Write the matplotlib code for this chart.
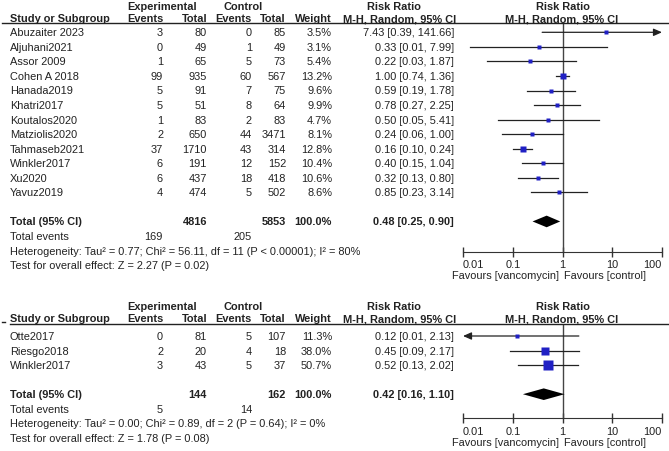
import matplotlib.pyplot as plt
from matplotlib.lines import Line2D
from matplotlib.transforms import blended_transform_factory
import numpy as np

plt.rcParams['font.family'] = ['Liberation Sans', 'DejaVu Sans']

W, H = 669, 452
FS = 7.9
TXT = '#222222'
BLUE = '#2020c4'

# upper comparison
studies1 = ["Abuzaiter 2023", "Aljuhani2021", "Assor 2009", "Cohen A 2018", "Hanada2019",
            "Khatri2017", "Koutalos2020", "Matziolis2020", "Tahmaseb2021", "Winkler2017",
            "Xu2020", "Yavuz2019"]
exp_ev1 = [3, 0, 1, 99, 5, 5, 1, 2, 37, 6, 6, 4]
exp_tot1 = [80, 49, 65, 935, 91, 51, 83, 650, 1710, 191, 437, 474]
ctl_ev1 = [0, 1, 5, 60, 7, 8, 2, 44, 43, 12, 18, 5]
ctl_tot1 = [85, 49, 73, 567, 75, 64, 83, 3471, 314, 152, 418, 502]
weight1 = [3.5, 3.1, 5.4, 13.2, 9.6, 9.9, 4.7, 8.1, 12.8, 10.4, 10.6, 8.6]
rr1 = [7.43, 0.33, 0.22, 1.00, 0.59, 0.78, 0.50, 0.24, 0.16, 0.40, 0.32, 0.85]
lo1 = [0.39, 0.014, 0.03, 0.74, 0.19, 0.27, 0.05, 0.06, 0.10, 0.15, 0.13, 0.23]
hi1 = [141.66, 7.99, 1.87, 1.36, 1.78, 2.25, 5.41, 1.00, 0.24, 1.04, 0.80, 3.14]
totals1 = [4816, 5853]
events1 = [169, 205]
pooled1 = [0.48, 0.25, 0.90]
het1 = "Heterogeneity: Tau² = 0.77; Chi² = 56.11, df = 11 (P < 0.00001); I² = 80%"
test1 = "Test for overall effect: Z = 2.27 (P = 0.02)"

# lower comparison
studies2 = ["Otte2017", "Riesgo2018", "Winkler2017"]
exp_ev2 = [0, 2, 3]
exp_tot2 = [81, 20, 43]
ctl_ev2 = [5, 4, 5]
ctl_tot2 = [107, 18, 37]
weight2 = [11.3, 38.0, 50.7]
rr2 = [0.12, 0.45, 0.52]
lo2 = [0.007, 0.09, 0.13]
hi2 = [2.13, 2.17, 2.02]
totals2 = [144, 162]
events2 = [5, 14]
pooled2 = [0.42, 0.16, 1.10]
het2 = "Heterogeneity: Tau² = 0.00; Chi² = 0.89, df = 2 (P = 0.64); I² = 0%"
test2 = "Test for overall effect: Z = 1.78 (P = 0.08)"

fig = plt.figure(figsize=(W / 100, H / 100), dpi=100)


def fx(x):
    return x / W


def fy(y):
    return 1 - y / H


def panel(studies, exp_ev, exp_tot, ctl_ev, ctl_tot, weight, rr, lo, hi,
          totals, events, pooled, het, test, top, line_y, row0, axis_y, line_x0):
    step = 14.55
    # headers
    hb = dict(fontsize=FS, color=TXT, fontweight='bold')
    fig.text(fx(162), fy(top + 10), "Experimental", ha='center', va='baseline', **hb)
    fig.text(fx(243), fy(top + 10), "Control", ha='center', va='baseline', **hb)
    fig.text(fx(394), fy(top + 10), "Risk Ratio", ha='center', va='baseline', **hb)
    fig.text(fx(563), fy(top + 10), "Risk Ratio", ha='center', va='baseline', **hb)
    y2 = fy(top + 22)
    fig.text(fx(10), y2, "Study or Subgroup", ha='left', va='baseline', **hb)
    for xr, s in [(163, "Events"), (207, "Total"), (252, "Events"), (286, "Total"), (332, "Weight")]:
        fig.text(fx(xr), y2, s, ha='right', va='baseline', **hb)
    fig.text(fx(400), y2, "M-H, Random, 95% CI", ha='center', va='baseline', **hb)
    fig.text(fx(562), y2, "M-H, Random, 95% CI", ha='center', va='baseline', **hb)
    fig.add_artist(Line2D([fx(line_x0), 1], [fy(line_y)] * 2, color=TXT, lw=1))

    ax = fig.add_axes([fx(463), fy(axis_y), fx(662) - fx(463), (axis_y - line_y) / H])
    ax.set_xscale('log')
    ax.set_xlim(0.01, 100)
    ax.set_ylim((axis_y - row0) / step, (line_y - row0) / step)
    for s in ['top', 'left', 'right']:
        ax.spines[s].set_visible(False)
    ax.spines['bottom'].set_color('#333333')
    ax.set_yticks([])
    ax.set_xticks([0.01, 0.1, 1, 10, 100], ["0.01", "0.1", "1", "10", "100"])
    ax.xaxis.set_minor_locator(plt.NullLocator())
    ax.tick_params(axis='x', direction='inout', length=7, width=1, color='#333333',
                   labelsize=FS, labelcolor=TXT, pad=2)
    labs = ax.get_xticklabels()
    labs[0].set_ha('left')
    labs[-1].set_ha('right')
    ax.axvline(1, color='#444444', lw=1)
    ax.patch.set_alpha(0)

    tr = blended_transform_factory(fig.transFigure, ax.transData)
    t = dict(fontsize=FS, color=TXT, transform=tr, va='center')
    n = len(studies)
    for i in range(n):
        ax.text(fx(10), i, studies[i], ha='left', **t)
        ax.text(fx(163), i, str(exp_ev[i]), ha='right', **t)
        ax.text(fx(207), i, str(exp_tot[i]), ha='right', **t)
        ax.text(fx(252), i, str(ctl_ev[i]), ha='right', **t)
        ax.text(fx(286), i, str(ctl_tot[i]), ha='right', **t)
        ax.text(fx(332), i, f"{weight[i]:.1f}%", ha='right', **t)
        ax.text(fx(454), i, f"{rr[i]:.2f} [{lo[i]:.2f}, {hi[i]:.2f}]", ha='right', **t)
        a, b = max(lo[i], 0.01), min(hi[i], 100)
        if hi[i] > 100 or lo[i] < 0.01:
            start, end = (a, b) if hi[i] > 100 else (b, a)
            ax.annotate('', xy=(end, i), xytext=(start, i), annotation_clip=False,
                        arrowprops=dict(arrowstyle='-|>,head_length=0.5,head_width=0.22',
                                        color='#222222', lw=0.9, shrinkA=0, shrinkB=0,
                                        mutation_scale=10))
        else:
            ax.plot([a, b], [i, i], color='#222222', lw=0.9, clip_on=False)
        side = max(10 * np.sqrt(weight[i] / 50.7), 3.2)
        ax.plot(rr[i], i, marker='s', ms=side * 0.72, color=BLUE, mec='none', zorder=3)

    r = n + 1
    tb = dict(t, fontweight='bold')
    ax.text(fx(10), r, "Total (95% CI)", ha='left', **tb)
    ax.text(fx(207), r, str(totals[0]), ha='right', **tb)
    ax.text(fx(286), r, str(totals[1]), ha='right', **tb)
    ax.text(fx(332), r, "100.0%", ha='right', **tb)
    ax.text(fx(454), r, f"{pooled[0]:.2f} [{pooled[1]:.2f}, {pooled[2]:.2f}]", ha='right', **tb)
    est, dlo, dhi = pooled
    ax.fill([dlo, est, dhi, est], [r, r - 0.4, r, r + 0.4], color='black', lw=0, zorder=3)

    ax.text(fx(10), r + 1, "Total events", ha='left', **t)
    ax.text(fx(163), r + 1, str(events[0]), ha='right', **t)
    ax.text(fx(252), r + 1, str(events[1]), ha='right', **t)
    ax.text(fx(10), r + 2, het, ha='left', **t)
    ax.text(fx(10), r + 3, test, ha='left', **t)

    fav = (axis_y + 23.5 - row0) / step
    ax.text(10 ** -0.08, fav, "Favours [vancomycin]", ha='right', va='center',
            fontsize=FS, color=TXT)
    ax.text(10 ** 0.04, fav, "Favours [control]", ha='left', va='center',
            fontsize=FS, color=TXT)
    return ax


panel(studies1, exp_ev1, exp_tot1, ctl_ev1, ctl_tot1, weight1, rr1, lo1, hi1,
      totals1, events1, pooled1, het1, test1, top=0, line_y=23.5, row0=33.3,
      axis_y=252.5, line_x0=2)
panel(studies2, exp_ev2, exp_tot2, ctl_ev2, ctl_tot2, weight2, rr2, lo2, hi2,
      totals2, events2, pooled2, het2, test2, top=300, line_y=325, row0=337,
      axis_y=419, line_x0=10)
fig.add_artist(Line2D([fx(2), fx(5)], [fy(323)] * 2, color=TXT, lw=1))

plt.savefig("out.png", dpi=100)
